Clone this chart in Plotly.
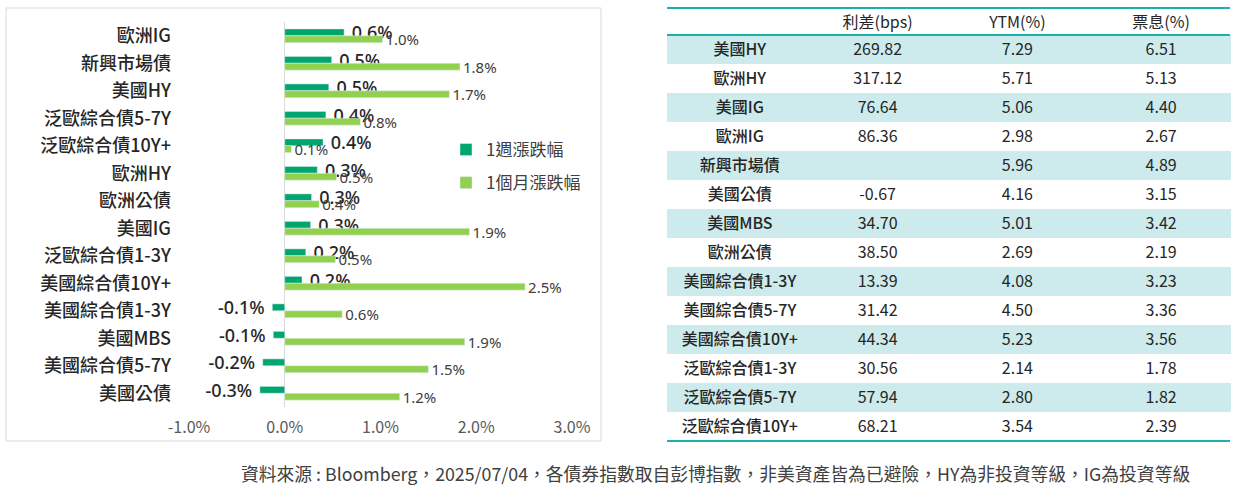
import plotly.graph_objects as go

# bar chart data (weekly / monthly change, %)
bond_names = ['歐洲IG', '新興市場債', '美國HY', '泛歐綜合債5-7Y', '泛歐綜合債10Y+', '歐洲HY', '歐洲公債',
              '美國IG', '泛歐綜合債1-3Y', '美國綜合債10Y+', '美國綜合債1-3Y', '美國MBS', '美國綜合債5-7Y', '美國公債']
chg_1w = [0.62, 0.49, 0.46, 0.43, 0.40, 0.34, 0.28, 0.27, 0.22, 0.18, -0.13, -0.12, -0.23, -0.26]
chg_1m = [1.02, 1.83, 1.72, 0.79, 0.07, 0.54, 0.36, 1.93, 0.53, 2.51, 0.60, 1.88, 1.50, 1.20]
x_ticks = [-1, 0, 1, 2, 3]

# table data
tbl_header = ['', '利差(bps)', 'YTM(%)', '票息(%)']
tbl_names = ['美國HY', '歐洲HY', '美國IG', '歐洲IG', '新興市場債', '美國公債', '美國MBS', '歐洲公債',
             '美國綜合債1-3Y', '美國綜合債5-7Y', '美國綜合債10Y+', '泛歐綜合債1-3Y', '泛歐綜合債5-7Y', '泛歐綜合債10Y+']
spread_bps = [269.82, 317.12, 76.64, 86.36, None, -0.67, 34.70, 38.50, 13.39, 31.42, 44.34, 30.56, 57.94, 68.21]
ytm = [7.29, 5.71, 5.06, 2.98, 5.96, 4.16, 5.01, 2.69, 4.08, 4.50, 5.23, 2.14, 2.80, 3.54]
coupon = [6.51, 5.13, 4.40, 2.67, 4.89, 3.15, 3.42, 2.19, 3.23, 3.36, 3.56, 1.78, 1.82, 2.39]

footnote = '資料來源 : Bloomberg，2025/07/04，各債券指數取自彭博指數，非美資產皆為已避險，HY為非投資等級，IG為投資等級'

W, H = 1237, 486
FONT = 'Noto Sans CJK TC'
NUM_FONT = 'Noto Sans'  # latin font sits better vertically next to the thin bars
DARK_GREEN = '#00A66E'
LIGHT_GREEN = '#92D050'
TEAL = '#1BB0B0'
ROW_FILL = '#CDEBEC'


def px_x(v):
    return min(max(v / W, 0), 1)


def px_y(v):
    return min(max(1 - v / H, 0), 1)


fig = go.Figure()

# nbsp on both sides pushes the weekly labels a little away from the bar ends
fig.add_trace(go.Bar(
    y=bond_names, x=chg_1w, orientation='h', name='1週漲跌幅',
    marker_color=DARK_GREEN, legendgroup='w',
    texttemplate='\u00a0%{x:.1f}%\u00a0', textposition='outside', constraintext='none', cliponaxis=False,
    textfont=dict(family=NUM_FONT, size=18, color='#262626', weight=500),
))
fig.add_trace(go.Bar(
    y=bond_names, x=chg_1m, orientation='h', name='1個月漲跌幅',
    marker_color=LIGHT_GREEN, legendgroup='m',
    texttemplate='%{x:.1f}%', textposition='outside', constraintext='none', cliponaxis=False,
    textfont=dict(family=NUM_FONT, size=15, color='#404040'),
))

cols = [
    tbl_names,
    ['' if v is None else f'{v:.2f}' for v in spread_bps],
    [f'{v:.2f}' for v in ytm],
    [f'{v:.2f}' for v in coupon],
]
fills = [ROW_FILL if i % 2 == 0 else 'white' for i in range(len(tbl_names))]

fig.add_trace(go.Table(
    domain=dict(x=[px_x(667), px_x(1230)], y=[px_y(445), px_y(8)]),
    columnwidth=[146, 130, 150, 138],
    header=dict(values=tbl_header, height=27, fill_color='white', line_color='white',
                align='center', font=dict(family=FONT, size=16, color='#262626')),
    cells=dict(values=cols, height=29, fill_color=[fills], line_color=[fills],
               align='center',
               font=dict(family=FONT, size=16, color='#262626',
                         weight=[500, 'normal', 'normal', 'normal'])),
))

fig.update_layout(
    width=W, height=H,
    margin=dict(l=0, r=0, t=0, b=0),
    paper_bgcolor='white', plot_bgcolor='white',
    barmode='group', bargap=0.5, bargroupgap=0,
    font=dict(family=FONT, color='#404040'),
    showlegend=True,
    legend=dict(x=px_x(446), y=px_y(132), xanchor='left', yanchor='top',
                font=dict(family=FONT, size=17, color='#404040'),
                traceorder='grouped', tracegroupgap=8, bgcolor='rgba(0,0,0,0)'),
    xaxis=dict(domain=[px_x(189), px_x(572)], range=[-1, 3], tickvals=x_ticks,
               ticktext=[f'{v:.1f}%' for v in x_ticks], showgrid=False,
               zeroline=True, zerolinecolor='#D9D9D9', zerolinewidth=1, showline=False,
               ticks='', ticklabelstandoff=9, automargin=False,
               tickfont=dict(family=FONT, size=16, color='#595959')),
    yaxis=dict(domain=[px_y(407), px_y(22)], autorange='reversed', showgrid=False,
               showline=False, ticks='', ticklabelstandoff=17, automargin=False,
               tickfont=dict(family=FONT, size=18, color='#262626', weight=500)),
    shapes=[
        dict(type='rect', xref='paper', yref='paper', x0=px_x(6), x1=px_x(601),
             y0=px_y(441), y1=px_y(8), line=dict(color='#D9D9D9', width=1)),
        dict(type='line', xref='paper', yref='paper', x0=px_x(667), x1=px_x(1230),
             y0=px_y(8), y1=px_y(8), line=dict(color=TEAL, width=2)),
        dict(type='line', xref='paper', yref='paper', x0=px_x(667), x1=px_x(1230),
             y0=px_y(35), y1=px_y(35), line=dict(color=TEAL, width=2)),
        dict(type='line', xref='paper', yref='paper', x0=px_x(667), x1=px_x(1230),
             y0=px_y(441), y1=px_y(441), line=dict(color=TEAL, width=2)),
    ],
    annotations=[
        dict(text=footnote, xref='paper', yref='paper', x=px_x(239), y=px_y(473),
             xanchor='left', yanchor='middle', showarrow=False,
             font=dict(family=FONT, size=17.8, color='#404040')),
    ],
)

# drop the default 8px page margin so the figure fills the window
fig.write_html('out.html', config={'displayModeBar': False},
               post_script="document.body.style.margin = '0';")
